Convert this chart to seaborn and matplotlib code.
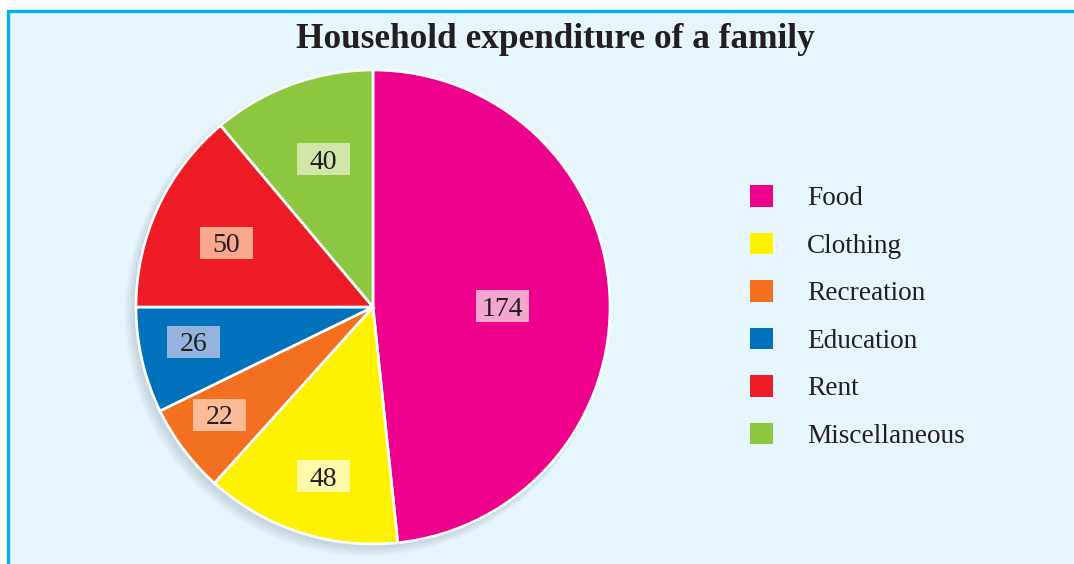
import numpy as np
import matplotlib
matplotlib.use("Agg")
import matplotlib.pyplot as plt
from matplotlib.patches import Patch, Rectangle, Circle
import seaborn as sns

# data
categories = ["Food", "Clothing", "Recreation", "Education", "Rent", "Miscellaneous"]
amounts = [174, 48, 22, 26, 50, 40]
colors = ["#EC008C", "#FFF200", "#F37021", "#0072BC", "#ED1C24", "#8DC63F"]
box_colors = ["#F5A6CE", "#FFF9AA", "#FBBC95", "#95B3DF", "#F8A68C", "#D1E6A8"]
title = "Household expenditure of a family"

# value label placement: fraction of radius, nudge (deg) from wedge middle
label_r = [0.546, 0.743, 0.792, 0.772, 0.675, 0.658]
label_dtheta = [-2.6, 1.7, -1.9, -2.0, 1.4, -1.5]

sns.set_theme(style="white")
plt.rcParams["font.family"] = ["Liberation Serif", "DejaVu Serif"]
plt.rcParams["text.color"] = "#231F20"

W, H = 1074, 564
fig = plt.figure(figsize=(W / 100, H / 100), dpi=100)
fig.patch.set_facecolor("white")

# panel background with cyan frame on top/left
bg = Rectangle((8 / W, -0.1), 1.2, 1 - 11 / H + 0.1, transform=fig.transFigure,
               facecolor="#E7F5FC", edgecolor="#00B0F0", linewidth=2.4, zorder=-10)
fig.patches.append(bg)

cx, cy, r = 373, 307, 237
ax = fig.add_axes([(cx - r) / W, (H - cy - r) / H, 2 * r / W, 2 * r / H])
ax.patch.set_alpha(0)

# soft shadow
for k in range(6):
    ax.add_patch(Circle((-0.012 - 0.003 * k, -0.015 - 0.003 * k), 1.0 + 0.004 * k,
                        facecolor="#7a8a99", alpha=0.05, edgecolor="none",
                        zorder=0, clip_on=False))

wedges, _ = ax.pie(amounts, colors=colors, startangle=90, counterclock=False,
                   radius=1.0, wedgeprops=dict(edgecolor="white", linewidth=1.9))
ax.set_xlim(-1, 1)
ax.set_ylim(-1, 1)
ax.set_aspect("equal")
ax.axis("off")

# fixed-size label boxes (pixels)
bw, bh = 53, 32
for w, val, d, dt, bc in zip(wedges, amounts, label_r, label_dtheta, box_colors):
    mid = np.deg2rad((w.theta1 + w.theta2) / 2 + dt)
    px, py = ax.transData.transform((d * np.cos(mid), d * np.sin(mid)))
    fig.patches.append(Rectangle((px - bw / 2, py - bh / 2), bw, bh, transform=None,
                                 facecolor=bc, edgecolor="none", zorder=5))
    fig.text(px, py, str(val), transform=None, ha="center", va="center_baseline",
             fontsize=20, zorder=10)

fig.text(555 / W, 1 - 39 / H, title, ha="center", va="center",
         fontsize=25.4, fontweight="bold")

handles = [Patch(facecolor=c, edgecolor="none") for c in colors]
fig.legend(handles, categories, loc="upper left",
           bbox_to_anchor=(750 / W, 1 - 185 / H), frameon=False, fontsize=19.6,
           handlelength=0.85, handleheight=0.85, handletextpad=1.25,
           labelspacing=0.78, borderpad=0, borderaxespad=0)

fig.savefig("out.png", dpi=100)
